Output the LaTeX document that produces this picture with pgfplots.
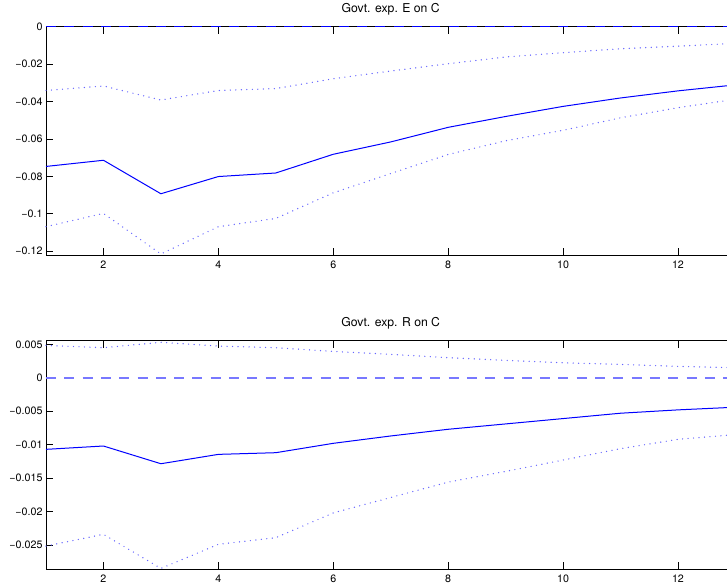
\documentclass[border=0pt]{standalone}
\usepackage{pgfplots}
\pgfplotsset{compat=1.18}
\usepackage{fontspec}
\setmainfont{TeX Gyre Heros}
\definecolor{mblue}{RGB}{0,0,255}
\definecolor{dotblue}{RGB}{100,100,255}
\definecolor{zblue}{RGB}{120,120,255}

\pgfplotsset{
  irf/.style={
    scale only axis, width=689.4pt, height=228.6pt,
    xmin=1, xmax=13, xtick={2,4,...,12},
    clip=false,
    scaled y ticks=false, scaled x ticks=false,
    axis line style={line width=1pt},
    major tick length=6.9pt,
    tick style={black, line width=0.8pt},
    tick label style={font=\fontsize{10.7}{12}\selectfont},
    xticklabel style={yshift=-2.5pt},
    /pgf/number format/assume math mode=true,
    title style={font=\fontsize{12.2}{14}\selectfont, at={(0.5,1)}, anchor=base, yshift=8.4pt},
  },
  mid/.style={color=mblue, line width=1pt},
  band/.style={color=dotblue, line width=1.4pt, line cap=round, dash pattern=on 0pt off 5.5pt},
}

\begin{document}
\begin{tikzpicture}
% top panel
\begin{axis}[irf, at={(46pt,331.7pt)}, anchor=south west,
  ymin=-0.1222, ymax=0,
  ytick={-0.12,-0.1,-0.08,-0.06,-0.04,-0.02,0},
  yticklabels={−0.12,−0.1,−0.08,−0.06,−0.04,−0.02,0},
  title={Govt. exp. E on C}]
\addplot[color=mblue, line width=1.2pt, dash pattern=on 10pt off 8.3pt] coordinates {(1,0) (13,0)};
\addplot[band] coordinates {
(1,-0.0341) (2,-0.0317) (3,-0.0392) (4,-0.0341) (5,-0.0331) (6,-0.0278) (7,-0.0237)
(8,-0.0198) (9,-0.0162) (10,-0.0139) (11,-0.0118) (12,-0.0104) (13,-0.0089)};
\addplot[band] coordinates {
(1,-0.1069) (2,-0.0998) (3,-0.1215) (4,-0.1069) (5,-0.1025) (6,-0.0888) (7,-0.0785)
(8,-0.0683) (9,-0.0610) (10,-0.0554) (11,-0.0487) (12,-0.0433) (13,-0.0388)};
\addplot[mid] coordinates {
(1,-0.0747) (2,-0.0714) (3,-0.0893) (4,-0.0801) (5,-0.0782) (6,-0.0682) (7,-0.0616)
(8,-0.0538) (9,-0.0480) (10,-0.0426) (11,-0.0381) (12,-0.0343) (13,-0.0311)};
\end{axis}
% bottom panel
\begin{axis}[irf, at={(46pt,17.7pt)}, anchor=south west,
  ymin=-0.02863, ymax=0.00554,
  ytick={-0.025,-0.02,-0.015,-0.01,-0.005,0,0.005},
  yticklabels={−0.025,−0.02,−0.015,−0.01,−0.005,0,0.005},
  title={Govt. exp. R on C}]
\addplot[color=zblue, line width=2.2pt, dash pattern=on 10pt off 8.3pt] coordinates {(1,0) (13,0)};
\addplot[band] coordinates {
(1,0.00484) (2,0.00449) (3,0.0053) (4,0.00474) (5,0.00449) (6,0.00394) (7,0.0035)
(8,0.0030) (9,0.0026) (10,0.00224) (11,0.0020) (12,0.0017) (13,0.0015)};
\addplot[band] coordinates {
(1,-0.02516) (2,-0.0234) (3,-0.0285) (4,-0.0249) (5,-0.0239) (6,-0.0202) (7,-0.0179)
(8,-0.0156) (9,-0.0140) (10,-0.0123) (11,-0.0106) (12,-0.0092) (13,-0.0085)};
\addplot[mid] coordinates {
(1,-0.0107) (2,-0.0102) (3,-0.01285) (4,-0.01145) (5,-0.0112) (6,-0.0098) (7,-0.0087)
(8,-0.0077) (9,-0.0069) (10,-0.0061) (11,-0.0053) (12,-0.0048) (13,-0.0044)};
\end{axis}
\pgfresetboundingbox
\path[use as bounding box] (0,0) rectangle (727pt,587pt);
\end{tikzpicture}
\end{document}
